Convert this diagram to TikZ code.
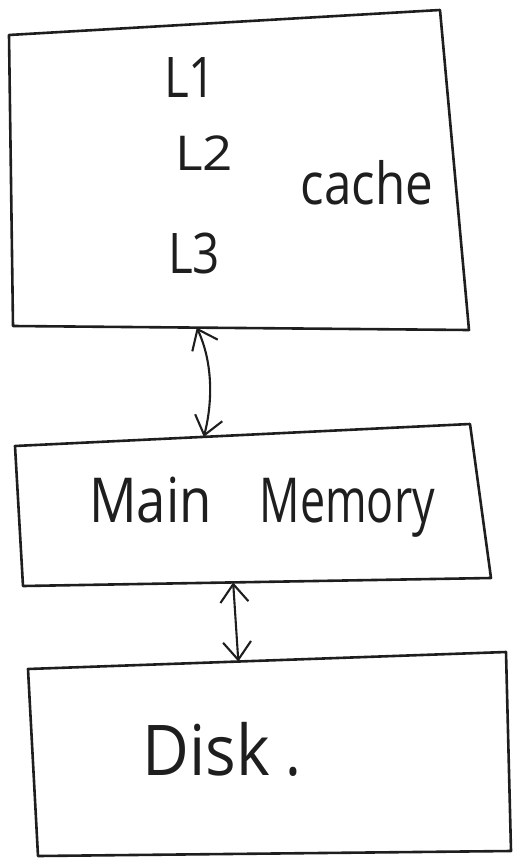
\documentclass[tikz,border=0pt]{standalone}
\usepackage{fontspec}
\setmainfont{Open Sans}
\newfontfamily\handfont[FakeStretch=0.85]{Open Sans}
\usetikzlibrary{arrows.meta,calc}
\definecolor{ink}{HTML}{1E1E1E}
\begin{document}
\begin{tikzpicture}[x=1pt,y=-1pt,
  outline/.style={draw=ink,line width=2.6pt,line join=round,line cap=round},
  link/.style={draw=ink,line width=2.1pt,line cap=round,
    arrows={Straight Barb[length=18pt,width=28pt]-Straight Barb[length=18pt,width=28pt]}},
  hand/.style={text=ink,inner sep=0pt,anchor=base,font=\handfont}]
\useasboundingbox (0,0) rectangle (523,859);

% corners of the three boxes
\coordinate (c-tl) at (9,35);   \coordinate (c-tr) at (440,10);
\coordinate (c-br) at (469,330);\coordinate (c-bl) at (13,326);
\coordinate (m-tl) at (15,446); \coordinate (m-tr) at (470,424);
\coordinate (m-br) at (491,578);\coordinate (m-bl) at (23,586);
\coordinate (d-tl) at (28,669); \coordinate (d-tr) at (506,652);
\coordinate (d-br) at (511,851);\coordinate (d-bl) at (38,856);

\draw[outline] (c-tl) -- (c-tr) -- (c-br) -- (c-bl) -- cycle;
\draw[outline] (m-tl) -- (m-tr) -- (m-br) -- (m-bl) -- cycle;
\draw[outline] (d-tl) -- (d-tr) -- (d-br) -- (d-bl) -- cycle;

% cache contents
\node[hand,font=\handfont\fontsize{56}{56}\selectfont] (l1) at (190,97) {L1};
\node[hand,font=\handfont\fontsize{48}{48}\selectfont] (l2) at (204,170) {\scalebox{1.3}[1]{L2}};
\node[hand,font=\handfont\fontsize{56}{56}\selectfont] (l3) at (194,273) {L3};
\node[hand,font=\handfont\fontsize{58}{58}\selectfont] (cache) at (367,204) {cache};

% main memory and disk labels
\node[hand,font=\handfont\fontsize{62}{62}\selectfont] (mem) at (262,522) {Main\hspace{48pt}\scalebox{0.85}[1]{Memory}};
\node[hand,font=\handfont\fontsize{70}{70}\selectfont] (disk) at (222,775) {\scalebox{1.08}[1]{Disk}\hspace{16pt}.};

% attachment points of the two links
\coordinate (c-out) at ($(c-bl)!0.403!(c-br)$);
\coordinate (m-in)  at ($(m-tl)!0.415!(m-tr)$);
\coordinate (m-out) at ($(m-bl)!0.449!(m-br)$);
\coordinate (d-in)  at ($(d-tl)!0.44!(d-tr)$);

\draw[link] (c-out) .. controls (214,365) and (212,405) .. (m-in);
\draw[link] (m-out) -- (d-in);
\end{tikzpicture}
\end{document}
